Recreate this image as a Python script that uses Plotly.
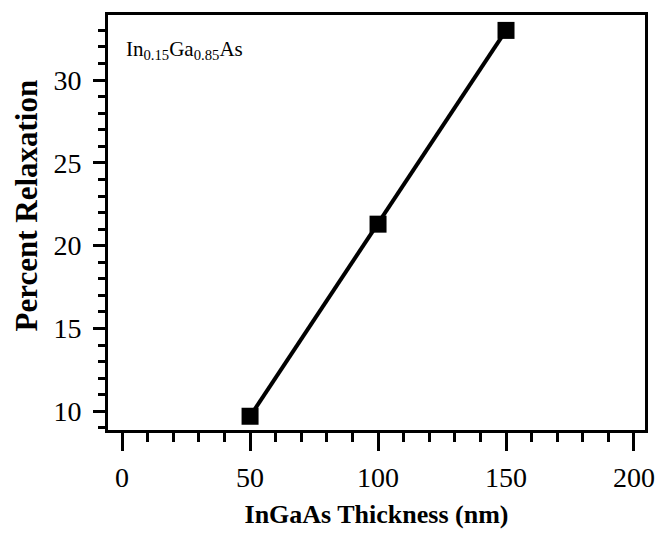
import plotly.graph_objects as go

# InGaAs layer thickness (nm) vs. measured percent relaxation
thickness_nm = [50, 100, 150]
relaxation_pct = [9.7, 21.3, 33.0]

x_tick_vals = [0, 50, 100, 150, 200]
y_tick_vals = [10, 15, 20, 25, 30]

serif = "Liberation Serif, Times New Roman, serif"

fig = go.Figure()
fig.add_trace(go.Scatter(
    x=thickness_nm,
    y=relaxation_pct,
    mode="lines+markers",
    line=dict(color="black", width=4),
    marker=dict(symbol="square", size=17, color="black"),
    showlegend=False,
))

fig.update_layout(
    width=667,
    height=541,
    margin=dict(l=108, r=15, t=12, b=111),
    paper_bgcolor="white",
    plot_bgcolor="white",
    font=dict(family=serif, color="black"),
    xaxis=dict(
        range=[-5.5, 204.3],
        tickvals=x_tick_vals,
        ticks="outside",
        ticklen=18,
        tickwidth=3,
        tickcolor="black",
        minor=dict(dtick=10, ticks="outside", ticklen=9, tickwidth=3, tickcolor="black"),
        showline=True,
        linewidth=3,
        linecolor="black",
        mirror=True,
        showgrid=False,
        zeroline=False,
        tickfont=dict(size=28, family=serif),
        ticklabelstandoff=2,
        title=dict(text="<b>InGaAs Thickness (nm)</b>", font=dict(size=26, family=serif), standoff=14),
    ),
    yaxis=dict(
        range=[8.87, 33.93],
        tickvals=y_tick_vals,
        ticks="outside",
        ticklen=12,
        tickwidth=3,
        tickcolor="black",
        minor=dict(dtick=1, ticks="outside", ticklen=7, tickwidth=3, tickcolor="black"),
        showline=True,
        linewidth=3,
        linecolor="black",
        mirror=True,
        showgrid=False,
        zeroline=False,
        tickfont=dict(size=28, family=serif),
        ticklabelstandoff=6,
    ),
    annotations=[
        dict(
            x=0.03, y=0.915, xref="paper", yref="paper",
            xanchor="left", yanchor="middle",
            text="In<sub>0.15</sub>Ga<sub>0.85</sub>As",
            showarrow=False,
            font=dict(size=21, family=serif, color="black"),
        ),
        # y-axis title, set a little above the plot-area centre
        dict(
            x=0, y=0.541, xref="paper", yref="paper",
            xanchor="center", yanchor="middle",
            xshift=-82,
            textangle=-90,
            text="<b>Percent Relaxation</b>",
            showarrow=False,
            font=dict(size=31, family=serif, color="black"),
        ),
    ],
)

fig.write_html("out.html")
